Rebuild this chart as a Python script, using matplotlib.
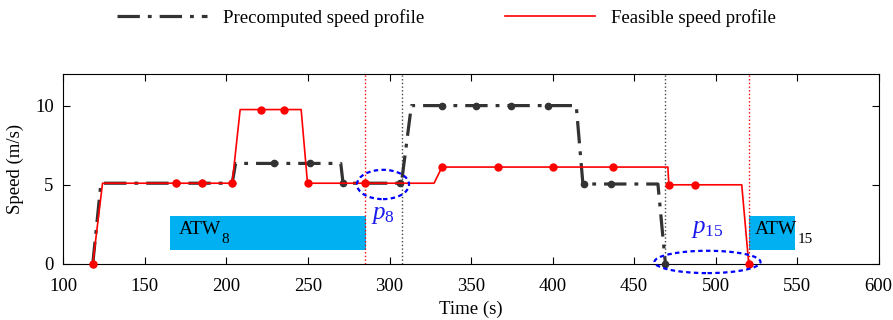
import matplotlib
matplotlib.use("Agg")
import matplotlib.pyplot as plt
from matplotlib.patches import Rectangle, Ellipse

plt.rcParams['font.family'] = ['Liberation Serif', 'DejaVu Serif']
plt.rcParams['mathtext.fontset'] = 'custom'
plt.rcParams['mathtext.rm'] = 'Liberation Serif'
plt.rcParams['mathtext.it'] = 'Liberation Serif:italic'

# precomputed speed profile (line vertices and marked points)
pre_t = [118, 123, 203.5, 205.6, 270.1, 271.5, 307.3, 313.4, 414.5, 418.6, 464.6, 469.2]
pre_v = [0, 5.1, 5.1, 6.35, 6.35, 5.1, 5.1, 10, 10, 5.05, 5.05, 0]
pre_mt = [118, 169, 185.3, 203.5, 229.2, 251.1, 271.5, 306.3, 332.2, 353.2, 374.3, 397.1, 419.2, 436, 469.2]
pre_mv = [0, 5.1, 5.1, 5.1, 6.35, 6.35, 5.1, 5.1, 10, 10, 10, 10, 5.05, 5.05, 0]

# feasible speed profile
fea_t = [118, 124, 203.5, 208.4, 245.8, 249.7, 327.3, 332.2, 470.7, 471.3, 516, 520.3]
fea_v = [0, 5.1, 5.1, 9.75, 9.75, 5.1, 5.1, 6.12, 6.12, 5.0, 5.0, 0]
fea_mt = [118, 169, 185.3, 203.5, 221, 235.4, 249.7, 284.8, 332.2, 366.3, 400, 437, 471.3, 487.4, 520.3]
fea_mv = [0, 5.1, 5.1, 5.1, 9.75, 9.75, 5.1, 5.1, 6.12, 6.12, 6.12, 6.12, 5.0, 5.0, 0]

# arrival time windows: (start, end)
atw = [(165.3, 285.4), (520.6, 548.8)]
red_vlines = [284.8, 520.5]
black_vlines = [307.5, 469.2]

fig = plt.figure(figsize=(8.93, 3.2), dpi=100)
ax = fig.add_axes([0.071, 0.175, 0.913, 0.594])

for x in red_vlines:
    ax.axvline(x, color='red', ls=':', lw=1.0)
for x in black_vlines:
    ax.axvline(x, color='#444444', ls=':', lw=1.0)

for t0, t1 in atw:
    ax.add_patch(Rectangle((t0, 0.89), t1 - t0, 2.15, color='#00b0f0', lw=0, zorder=1))
ax.text(171, 2.2, 'ATW', fontsize=14, va='center', zorder=5)
ax.text(197, 1.55, '8', fontsize=11, va='center', zorder=5)
ax.text(524, 2.2, 'ATW', fontsize=14, va='center', zorder=5)
ax.text(550, 1.55, '15', fontsize=11, va='center', zorder=5)

l1, = ax.plot(pre_t, pre_v, color='#333333', lw=2.3, ls=(0, (7, 2.5, 1.2, 2.5)), zorder=3,
              label='Precomputed speed profile')
ax.plot(pre_mt, pre_mv, 'o', color='#333333', ms=4.5, zorder=3, clip_on=False)
l2, = ax.plot(fea_t, fea_v, color='red', lw=1.2, zorder=4, label='Feasible speed profile')
ax.plot(fea_mt, fea_mv, 'o', color='red', ms=5, zorder=4, clip_on=False)

ax.add_patch(Ellipse((296, 5.02), 31.9, 1.85, fill=False, ec='blue', ls=(0, (2, 1.5)), lw=1.6,
                     zorder=6, clip_on=False))
ax.add_patch(Ellipse((495, 0.13), 65, 1.41, fill=False, ec='blue', ls=(0, (2, 1.5)), lw=1.6,
                     zorder=6, clip_on=False))
ax.text(296, 3.1, '$p_{8}$', color='#1a1aee', fontsize=18, ha='center', va='center')
ax.text(495, 2.2, '$p_{15}$', color='#1a1aee', fontsize=18, ha='center', va='center')

ax.set_xlim(100, 600)
ax.set_ylim(0, 12)
ax.set_xticks(range(100, 601, 50))
ax.set_yticks([0, 5, 10])
ax.tick_params(direction='in', top=True, right=True, labelsize=13.5, length=5, pad=7)
ax.tick_params(axis='x', pad=10)
ax.set_xlabel('Time (s)', fontsize=13.5, labelpad=4)
ax.set_ylabel('Speed (m/s)', fontsize=13.5, labelpad=8)

fig.legend(handles=[l1, l2], loc='upper center', bbox_to_anchor=(0.5, 1.025), ncol=2,
           frameon=False, fontsize=13.5, handlelength=4.8, handletextpad=0.85, columnspacing=4.3)

fig.savefig('out.png', dpi=100)
